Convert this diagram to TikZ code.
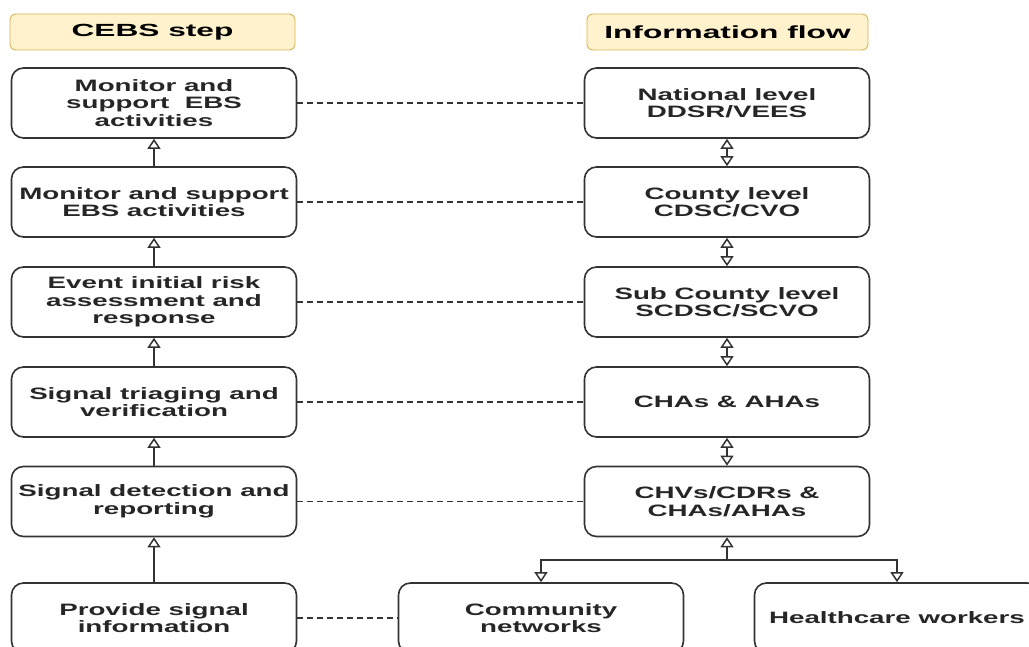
\documentclass[tikz,border=0pt]{standalone}
\usepackage{fontspec}
\usetikzlibrary{arrows.meta}
\newfontfamily\boxfont[FakeStretch=1.68]{Liberation Sans}
\newfontfamily\headfont[FakeStretch=1.8]{Liberation Sans}
\definecolor{inkc}{HTML}{262626}
\definecolor{edgec}{HTML}{333333}
\definecolor{headfill}{HTML}{FFF2CC}
\definecolor{headedge}{HTML}{D6B656}
\begin{document}
\begin{tikzpicture}[x=1pt,y=-1pt,
  stepbox/.style={draw=edgec, line width=1.6pt, rounded corners=12pt, fill=white,
    minimum width=285pt, minimum height=70pt, inner sep=0pt, align=center,
    text=inkc, font=\boxfont\bfseries\fontsize{16.5}{17.6}\selectfont},
  headbox/.style={draw=headedge, line width=0.9pt, rounded corners=6pt, fill=headfill,
    minimum height=36pt, inner sep=0pt, align=center,
    text=black, font=\headfont\bfseries\fontsize{17.6}{19}\selectfont},
  opentip/.tip={Triangle[open,width=13pt,length=10pt,line width=1.5pt]},
  upflow/.style={draw=edgec, line width=1.6pt, -opentip},
  twoway/.style={draw=edgec, line width=1.6pt, opentip-opentip},
  link/.style={draw=edgec, line width=1.2pt, dash pattern=on 6pt off 4pt}]

\useasboundingbox (0,0) rectangle (1029,647);
\clip (0,0) rectangle (1029,647);

% column headings
\node[headbox, minimum width=285pt] (hl) at (152.5,32) {CEBS step};
\node[headbox, minimum width=281pt] (hr) at (727.5,32) {Information flow};

% CEBS steps
\node[stepbox] (l1) at (154,103)   {Monitor and\\support~ EBS\\activities};
\node[stepbox] (l2) at (154,202)   {Monitor and support\\EBS activities};
\node[stepbox] (l3) at (154,302)   {Event initial risk\\assessment and\\response};
\node[stepbox] (l4) at (154,402)   {Signal triaging and\\verification};
\node[stepbox] (l5) at (154,501.5) {Signal detection and\\reporting};
\node[stepbox] (l6) at (154,618)   {Provide signal\\information};

% information flow levels
\node[stepbox] (r1) at (727,103)   {National level\\DDSR/VEES};
\node[stepbox] (r2) at (727,202)   {County level\\CDSC/CVO};
\node[stepbox] (r3) at (727,302)   {Sub County level\\SCDSC/SCVO};
\node[stepbox] (r4) at (727,402)   {CHAs \& AHAs};
\node[stepbox] (r5) at (727,501.5) {CHVs/CDRs \&\\CHAs/AHAs};
\node[stepbox] (cn) at (541,618)   {Community\\networks};
\node[stepbox] (hw) at (897,618)   {Healthcare workers};

% step sequence
\draw[upflow] (l2) -- (l1);
\draw[upflow] (l3) -- (l2);
\draw[upflow] (l4) -- (l3);
\draw[upflow] (l5) -- (l4);
\draw[upflow] (l6) -- (l5);

% two-way reporting between levels
\draw[twoway] (r1) -- (r2);
\draw[twoway] (r2) -- (r3);
\draw[twoway] (r3) -- (r4);
\draw[twoway] (r4) -- (r5);

% community sources
\coordinate (split) at (727,560);
\draw[upflow] (split) -- (r5.south);
\draw[upflow] (split) -| (cn.north);
\draw[upflow] (split) -| (hw.north);

% step-to-level correspondence
\draw[link] (l1.east) -- (r1.west);
\draw[link] (l2.east) -- (r2.west);
\draw[link] (l3.east) -- (r3.west);
\draw[link] (l4.east) -- (r4.west);
\draw[link] (l5.east) -- (r5.west);
\draw[link] (l6.east) -- (cn.west);
\end{tikzpicture}
\end{document}
